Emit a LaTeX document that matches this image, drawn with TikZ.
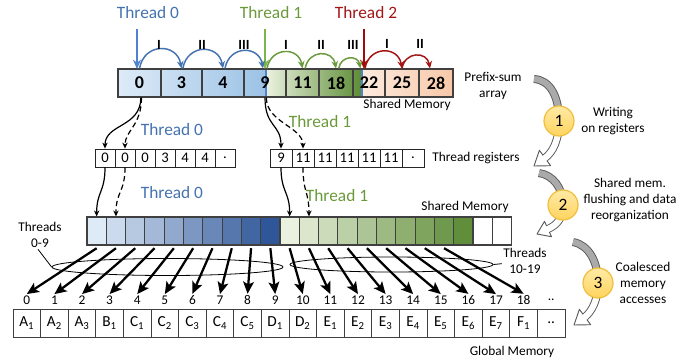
\documentclass[tikz,border=0pt]{standalone}
\usepackage{fontspec}
\setmainfont{Carlito}
\usetikzlibrary{arrows.meta,calc,shapes.geometric}

\definecolor{thBlue}{RGB}{68,114,176}
\definecolor{thGreen}{RGB}{106,153,59}
\definecolor{thRed}{RGB}{163,21,21}
\definecolor{arBlue}{RGB}{80,130,205}
\definecolor{arGreen}{RGB}{125,180,75}
\definecolor{arRed}{RGB}{160,10,10}
\definecolor{cellLine}{RGB}{64,64,64}
\definecolor{pBlueL}{RGB}{222,235,247}
\definecolor{pBlueR}{RGB}{155,194,230}
\definecolor{pGreenL}{RGB}{235,242,224}
\definecolor{pGreenR}{RGB}{92,140,52}
\definecolor{pPeachL}{RGB}{252,234,222}
\definecolor{pPeachR}{RGB}{247,200,168}
\definecolor{sBlueL}{RGB}{222,234,246}
\definecolor{sBlueD}{RGB}{47,86,152}
\definecolor{sGreenL}{RGB}{234,241,222}
\definecolor{sGreenD}{RGB}{96,142,58}
\definecolor{procGray}{RGB}{170,170,170}
\definecolor{procLine}{RGB}{90,90,90}
\definecolor{badgeTop}{RGB}{255,234,165}
\definecolor{badgeBot}{RGB}{255,212,95}
\definecolor{badgeLine}{RGB}{240,190,60}

% curved process arrow: tail, controls, middle, controls, end of body, tip
\newcommand\procarrow[8]{%
  \draw[procLine, line width=6pt] #1 .. controls #2 and #3 .. #4 .. controls #5 and #6 .. #7;
  \filldraw[fill=white, draw=procLine, line width=0.7pt, line join=round]
    #8 -- ($#7!0.7!90:#8$) -- ($#7!0.7!-90:#8$) -- cycle;
  \draw[procGray, line width=4.6pt] #1 .. controls #2 and #3 .. #4;
  \draw[white, line width=4.6pt] #4 .. controls #5 and #6 .. #7 -- ($#7!0.2!#8$);
}

\begin{document}
\begin{tikzpicture}[x=0.75pt,y=-0.75pt,
  pcell/.style={draw=cellLine, line width=0.9pt, minimum height=21pt, inner sep=0pt,
    font=\fontsize{13.5}{15}\selectfont\bfseries},
  rcell/.style={draw=black!85, line width=0.6pt, minimum height=13.5pt, inner sep=0pt,
    fill=white, font=\fontsize{11}{12}\selectfont},
  scell/.style={draw=cellLine, line width=0.8pt, minimum width=14.475pt, minimum height=21pt, inner sep=0pt},
  gcell/.style={draw=cellLine, line width=0.7pt, minimum width=20.7pt, minimum height=21pt, inner sep=0pt,
    font=\fontsize{11.5}{13}\selectfont},
  idx/.style={font=\fontsize{10}{12}\selectfont, inner sep=1pt},
  lab/.style={font=\fontsize{10}{12}\selectfont, align=center, inner sep=1pt},
  thlab/.style={font=\fontsize{13}{15}\selectfont, inner sep=1pt},
  roman/.style={font=\fontsize{10.5}{11}\selectfont\bfseries, inner sep=0pt},
  tharrow/.style={line width=1.5pt, -{Stealth[length=7pt,width=6pt]}},
  hop/.style={line width=1.1pt, out=80, in=100, looseness=1.6, -{Stealth[length=5.5pt,width=5pt]}},
  smallarrow/.style={line width=0.9pt, -{Stealth[length=4.5pt,width=4pt]}},
  dashedarrow/.style={smallarrow, dash pattern=on 4pt off 2.5pt},
  bigarrow/.style={line width=1.7pt, -{Stealth[length=9pt,width=8pt,inset=2pt]}},
  badge/.style={circle, minimum size=22.5pt, inner sep=0pt, top color=badgeTop, bottom color=badgeBot,
    draw=badgeLine, line width=0.9pt, font=\fontsize{13}{15}\selectfont},
]
\useasboundingbox (0,0) rectangle (699,362);

% ---------- prefix-sum array ----------
\shade[left color=pBlueL, right color=pBlueR] (118,69) rectangle (266,97);
\shade[left color=pGreenL, right color=pGreenR] (266,69) rectangle (362,97);
\shade[left color=pPeachL, right color=pPeachR] (362,69) rectangle (453,97);
\draw[arBlue, line width=1pt] (266,69) -- (266,97);
\draw[arBlue, line width=1pt] (362,69) -- (362,97);
\foreach \l/\r/\v [count=\k from 0] in {118/161/0, 161/202/3, 202/244/4, 244/286/9,
    286/319/11, 319/353/18, 353/385/22, 385/419/25, 419/453/28} {
  \node[pcell, minimum width={(\r-\l)*0.75pt}] (t\k) at ({(\l+\r)/2},83) {\v};
}
\node[lab] (smtop) at (407,105) {Shared Memory};
\node[lab] (pfx) at (493,86) {Prefix-sum\\array};

% ---------- thread labels and start arrows ----------
\node[thlab, text=thBlue] (th0) at (148,13) {Thread 0};
\node[thlab, text=thGreen] (th1) at (271,13) {Thread 1};
\node[thlab, text=thRed] (th2) at (366,13) {Thread 2};
\coordinate (v0) at (137,69);
\coordinate (v1) at (265,69);
\coordinate (v2) at (364,69);
\draw[tharrow, arBlue] ($(v0 |- th0.south)+(0,8)$) -- (v0);
\draw[tharrow, arGreen] ($(v1 |- th1.south)+(0,8)$) -- (v1);
\draw[tharrow, arRed] ($(v2 |- th2.south)+(0,8)$) -- (v2);

% ---------- prefix-sum hops ----------
\draw[hop, thBlue] (t0.north) to (t1.north);
\draw[hop, thBlue] ([xshift=1pt]t1.north) to (t2.north);
\draw[hop, thBlue] ([xshift=1.5pt]t2.north) to ([xshift=-1.5pt]t3.north);
\draw[hop, thGreen] ([xshift=1.5pt]t3.north) to (t4.north);
\draw[hop, thGreen] ([xshift=2pt]t4.north) to (t5.north);
\draw[hop, thGreen] ([xshift=2pt]t5.north) to ([xshift=6pt]t6.north west);
\draw[hop, thRed] ([xshift=-3pt]t6.north) to (t7.north);
\draw[hop, thRed] (t7.north) to ([xshift=-4.5pt]t8.north);
\node[roman] (h1) at (159,45) {I};
\node[roman] (h2) at (202,45) {II};
\node[roman] (h3) at (244,45) {III};
\node[roman] (h4) at (286,45) {I};
\node[roman] (h5) at (321,45) {II};
\node[roman] (h6) at (353,45) {III};
\node[roman] (h7) at (387,44) {I};
\node[roman] (h8) at (420,44) {II};

% ---------- thread registers ----------
\foreach \v [count=\k from 0] in {0,0,0,3,4,4,.} {
  \node[rcell, minimum width=15pt] (l\k) at ({95+20*(\k+0.5)},158) {\v};
}
\foreach \v [count=\k from 0] in {9,11,11,11,11,11,.} {
  \node[rcell, minimum width=16.5pt] (r\k) at ({270+22*(\k+0.5)},158) {\v};
}
\node[lab] (treg) at (476,158) {Thread registers};
\node[thlab, text=thBlue] (tb1) at (172,130) {Thread 0};
\node[thlab, text=thGreen] (tg1) at (320,122) {Thread 1};

\draw[smallarrow] ([xshift=1pt]t0.south) .. controls +(0,30) and +(0,-25) .. (l0.north);
\draw[dashedarrow] ([xshift=1.5pt]t0.south) .. controls +(0,28) and +(0,-18) .. (l1.north);
\draw[smallarrow] (t3.south) .. controls +(0,30) and +(0,-25) .. (r0.north);
\draw[dashedarrow] ([xshift=1pt]t3.south) .. controls +(0,25) and +(0,-22) .. (r1.north);

% ---------- shared memory after flushing ----------
\foreach \k in {0,...,9} {
  \pgfmathtruncatemacro\p{round(\k*100/9)}
  \node[scell, fill=sBlueD!\p!sBlueL] (s\k) at ({87+19.3*(\k+0.5)},231) {};
}
\foreach \k in {0,...,9} {
  \pgfmathtruncatemacro\p{round(\k*100/9)}
  \pgfmathtruncatemacro\n{\k+10}
  \node[scell, fill=sGreenD!\p!sGreenL] (s\n) at ({87+19.3*(\n+0.5)},231) {};
}
\node[scell, fill=white] (s20) at ({87+19.3*20.5},231) {};
\node[scell, fill=white] (s21) at ({87+19.3*21.5},231) {};
\node[lab] (smmid) at (465,207) {Shared Memory};
\node[thlab, text=thBlue] (tb2) at (172,193) {Thread 0};
\node[thlab, text=thGreen] (tg2) at (337,196) {Thread 1};

\draw[smallarrow] (l0.south) .. controls +(0,25) and +(0,-25) .. (s0.north);
\draw[dashedarrow] (l1.south) .. controls +(0,25) and +(0,-25) .. (s1.north);
\draw[smallarrow] (r0.south) .. controls +(0,25) and +(0,-25) .. (s10.north);
\draw[dashedarrow] (r1.south) .. controls +(0,25) and +(0,-25) .. (s11.north);

% ---------- global memory ----------
\foreach \t [count=\k from 0] in {A\textsubscript{1},A\textsubscript{2},A\textsubscript{3},B\textsubscript{1},
    C\textsubscript{1},C\textsubscript{2},C\textsubscript{3},C\textsubscript{4},C\textsubscript{5},
    D\textsubscript{1},D\textsubscript{2},E\textsubscript{1},E\textsubscript{2},E\textsubscript{3},
    E\textsubscript{4},E\textsubscript{5},E\textsubscript{6},E\textsubscript{7},F\textsubscript{1},..} {
  \node[gcell] (g\k) at ({13+27.6*(\k+0.5)},323) {\t};
}
\foreach \k in {0,...,18} {
  \node[idx] (i\k) at ({13+27.6*(\k+0.5)},300) {\k};
}
\node[idx] (i19) at ({13+27.6*19.5},300) {..};
\node[lab] (gmem) at (512,352) {Global Memory};

% ---------- coalesced accesses ----------
\foreach \k in {0,...,18} {
  \draw[bigarrow] ([yshift=-2pt]s\k.south) -- (i\k.north);
}
\node[draw, ellipse, line width=0.6pt, minimum width=173.25pt, minimum height=12.75pt, inner sep=0pt]
  (e0) at (167.5,267) {};
\node[draw, ellipse, line width=0.6pt, minimum width=152.25pt, minimum height=11.25pt, inner sep=0pt]
  (e1) at (391.5,264.5) {};
\node[lab] (thl) at (40,235) {Threads\\0-9};
\node[lab] (thr) at (525,261) {Threads\\10-19};
\draw[line width=0.6pt] ([xshift=-1.5pt]thl.south) -- (e0.west);
\draw[line width=0.6pt] (e1.east) -- ([yshift=-2pt]thr.west);

% ---------- process steps ----------
\procarrow{(534,79)}{(550,80)}{(559,96)}{(559,121)}{(559,140)}{(553,152)}{(545,158)}{(534,166)}
\procarrow{(539,173)}{(553,175)}{(563,188)}{(563,205)}{(563,218)}{(557,225)}{(548,229)}{(537,234)}
\procarrow{(573,242)}{(589,245)}{(598,262)}{(598,283)}{(598,300)}{(592,311)}{(585,317)}{(574,325)}
\node[badge] (c1) at (559,121) {1};
\node[badge] (c2) at (563,205) {2};
\node[badge] (c3) at (598,283) {3};
\node[lab] (w1) at (613,121) {Writing\\on registers};
\node[lab] (w2) at (630,200) {Shared mem.\\flushing and data\\reorganization};
\node[lab] (w3) at (643,283) {Coalesced\\memory\\accesses};
\end{tikzpicture}
\end{document}
